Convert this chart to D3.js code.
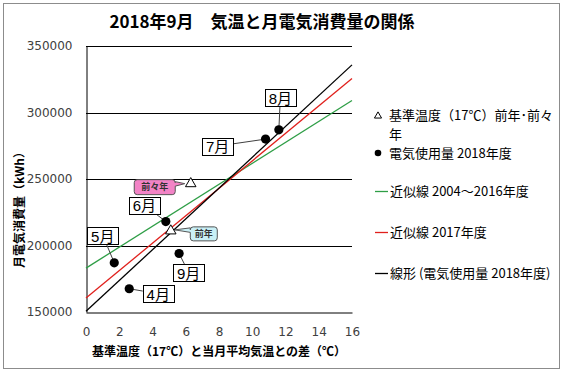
<!DOCTYPE html>
<html>
<head>
<meta charset="utf-8">
<script src="https://cdn.jsdelivr.net/npm/d3@7"></script>
<style>
body{margin:0;background:#fff;}
text{font-family:"Liberation Sans","Noto Sans CJK JP",sans-serif;}
.jp{font-family:"Noto Sans CJK JP",sans-serif;}
</style>
</head>
<body>
<div class="container"></div>
<script>
const WIDTH = 565;
const HEIGHT = 373;

// data
const months = ["4月", "5月", "6月", "7月", "8月", "9月"];
const tempDiff = [2.6, 1.7, 4.8, 10.8, 11.6, 5.6];
const usage = [167500, 187000, 218000, 280000, 287000, 194000];

const refNames = ["前年", "前々年"];
const refDiff = [5.1, 6.3];
const refUsage = [211000, 246500];

const trendNames = ["近似線 2004～2016年度", "近似線 2017年度", "線形 (電気使用量 2018年度)"];
const trendX = [0, 16];
const trendGreen = [183000, 309000];
const trendRed = [160500, 325500];
const trendBlack = [150500, 335800];

const xTicks = [0, 2, 4, 6, 8, 10, 12, 14, 16];
const yTicks = [150000, 200000, 250000, 300000, 350000];

// layout
const labelOffset = [[29, 5], [-11.5, -27.5], [-21.5, -16.5], [-48, 7], [1.5, -32], [9.5, 19]];
const trendColors = ["#2e9e46", "#e0201c", "#000"];

var translate = function(x, y){
  return "translate(" + x + "," + y + ")";
};

var svg = d3.select('.container').append('svg')
  .attr('width', WIDTH)
  .attr('height', HEIGHT);

svg.append('rect')
  .attr('x', 3.5).attr('y', 3.5)
  .attr('width', 556).attr('height', 365)
  .attr('fill', '#fff').attr('stroke', '#8c8c8c');

svg.append('text')
  .attr('class', 'jp')
  .attr('x', 262).attr('y', 22).attr('dy', '0.35em')
  .attr('text-anchor', 'middle')
  .style('font-size', '17px').style('font-weight', 'bold')
  .text('2018年9月　気温と月電気消費量の関係');

var xScale = d3.scaleLinear().domain([0, 16]).range([86, 352]);
var yScale = d3.scaleLinear().domain([150000, 350000]).range([312, 46]);

// grid
svg.append('g').selectAll('line')
  .data(yTicks.slice(1))
  .join('line')
  .attr('x1', xScale(0)).attr('x2', xScale(16))
  .attr('y1', d => Math.round(yScale(d)) + 0.5)
  .attr('y2', d => Math.round(yScale(d)) + 0.5)
  .attr('stroke', '#000').attr('stroke-width', 1);

var xAxis = d3.axisBottom(xScale).tickValues(xTicks).tickSize(0).tickPadding(15);
var yAxis = d3.axisLeft(yScale).tickValues(yTicks).tickSize(0).tickPadding(14)
  .tickFormat(d3.format('d'));

var gx = svg.append('g').attr('transform', translate(0, 312.5)).call(xAxis);
var gy = svg.append('g').attr('transform', translate(86.5, 0)).call(yAxis);
[gx, gy].forEach(function(g){
  g.select('.domain').attr('stroke', '#000').attr('stroke-width', 1);
  g.selectAll('text').attr('fill', '#404040').style('font-size', '12px')
    .style('font-family', '"DejaVu Sans","Noto Sans CJK JP",sans-serif');
});

svg.append('text')
  .attr('class', 'jp')
  .attr('transform', translate(20, 207) + ' rotate(-90)')
  .attr('text-anchor', 'middle').attr('dy', '0.35em')
  .style('font-size', '12px').style('font-weight', 'bold')
  .text('月電気消費量（kWh）');

svg.append('text')
  .attr('class', 'jp')
  .attr('x', 219).attr('y', 352).attr('dy', '0.35em')
  .attr('text-anchor', 'middle')
  .style('font-size', '12px').style('font-weight', 'bold')
  .text('基準温度（17℃）と当月平均気温との差（℃）');

// trend lines
var line = d3.line()
  .x(function(d, i){ return xScale(trendX[i]); })
  .y(function(d){ return yScale(d); });

svg.append('g').selectAll('path')
  .data([trendGreen, trendRed, trendBlack])
  .join('path')
  .attr('d', d => line(d))
  .attr('fill', 'none')
  .attr('stroke', (d, i) => trendColors[i])
  .attr('stroke-width', 1.3);

// leader lines and month boxes
var points = months.map(function(m, i){
  return {name: m, x: xScale(tempDiff[i]), y: yScale(usage[i]), off: labelOffset[i]};
});

var labels = svg.append('g');
points.forEach(function(p){
  var cx = p.x + p.off[0], cy = p.y + p.off[1];
  var w = 31, h = 17;
  // point on the box edge on the way to the dot
  var dx = p.x - cx, dy = p.y - cy;
  var t = Math.min(Math.abs((w / 2) / dx) || Infinity, Math.abs((h / 2) / dy) || Infinity);
  labels.append('line')
    .attr('x1', p.x).attr('y1', p.y)
    .attr('x2', cx + dx * t).attr('y2', cy + dy * t)
    .attr('stroke', '#404040').attr('stroke-width', 1);
  labels.append('rect')
    .attr('x', Math.round(cx - w / 2) + 0.5).attr('y', Math.round(cy - h / 2) + 0.5)
    .attr('width', w).attr('height', h)
    .attr('fill', '#fff').attr('stroke', '#000');
  labels.append('text')
    .attr('x', cx).attr('y', cy + 1).attr('dy', '0.35em')
    .attr('text-anchor', 'middle')
    .style('font-size', '15px')
    .text(p.name);
});

// dots
svg.append('g').selectAll('circle')
  .data(points)
  .join('circle')
  .attr('cx', d => d.x).attr('cy', d => d.y)
  .attr('r', 4.6).attr('fill', '#000');

// reference triangles with callouts
var refs = refNames.map(function(n, i){
  return {name: n, x: xScale(refDiff[i]), y: yScale(refUsage[i])};
});

var calloutPath = function(x0, y0, w, h, r, side, b1, b2, tx, ty){
  var x1 = x0 + w, y1 = y0 + h;
  var p = d3.path();
  p.moveTo(x0 + r, y0);
  p.lineTo(x1 - r, y0);
  p.arcTo(x1, y0, x1, y0 + r, r);
  if (side === 'right'){ p.lineTo(x1, b1); p.lineTo(tx, ty); p.lineTo(x1, b2); }
  p.lineTo(x1, y1 - r);
  p.arcTo(x1, y1, x1 - r, y1, r);
  p.lineTo(x0 + r, y1);
  p.arcTo(x0, y1, x0, y1 - r, r);
  if (side === 'left'){ p.lineTo(x0, b2); p.lineTo(tx, ty); p.lineTo(x0, b1); }
  p.lineTo(x0, y0 + r);
  p.arcTo(x0, y0, x0 + r, y0, r);
  p.closePath();
  return p.toString();
};

var callouts = svg.append('g');
// 前々年 (pink, tail on the right)
var pp = refs[1];
callouts.append('path')
  .attr('d', calloutPath(pp.x - 56.5, pp.y - 4, 41, 15, 3, 'right', pp.y - 2, pp.y + 2.5, pp.x - 6, pp.y))
  .attr('fill', '#f283c6').attr('stroke', '#555');
callouts.append('text')
  .attr('class', 'jp')
  .attr('x', pp.x - 36).attr('y', pp.y + 3.5).attr('dy', '0.35em')
  .attr('text-anchor', 'middle')
  .style('font-size', '9px').style('font-weight', 'bold').attr('fill', '#333')
  .text(pp.name);

// 前年 (cyan, tail on the left)
var pc = refs[0];
callouts.append('path')
  .attr('d', calloutPath(pc.x + 19.5, pc.y - 4, 27, 14, 3, 'left', pc.y - 3, pc.y + 1.5, pc.x + 4, pc.y - 1))
  .attr('fill', '#c9f0f6').attr('stroke', '#555');
callouts.append('text')
  .attr('class', 'jp')
  .attr('x', pc.x + 33).attr('y', pc.y + 3).attr('dy', '0.35em')
  .attr('text-anchor', 'middle')
  .style('font-size', '9px').style('font-weight', 'bold').attr('fill', '#333')
  .text(pc.name);

svg.append('g').selectAll('path')
  .data(refs)
  .join('path')
  .attr('transform', d => translate(d.x, d.y))
  .attr('d', d3.symbol(d3.symbolTriangle, 48))
  .attr('fill', '#fff').attr('stroke', '#000').attr('stroke-width', 1);

// legend
var legend = svg.append('g');
var legendText = function(x, y, s){
  return legend.append('text').attr('class', 'jp').attr('x', x).attr('y', y).attr('dy', '0.35em')
    .style('font-size', '13px').attr('fill', '#000').text(s);
};
legend.append('path')
  .attr('transform', translate(378, 116))
  .attr('d', d3.symbol(d3.symbolTriangle, 22))
  .attr('fill', '#fff').attr('stroke', '#000');
// wrapped label, two lines
legendText(389, 115, '基準温度（17℃）前年･前々');
legendText(389, 134.5, '年');
legend.append('circle').attr('cx', 378).attr('cy', 153).attr('r', 3.3).attr('fill', '#000');
legendText(389, 153, '電気使用量 2018年度');
var legendY = [191, 232, 273];
trendNames.forEach(function(n, i){
  legend.append('line')
    .attr('x1', 375).attr('x2', 388)
    .attr('y1', legendY[i] + 0.5).attr('y2', legendY[i] + 0.5)
    .attr('stroke', trendColors[i]).attr('stroke-width', 1.3);
  legendText(390, legendY[i], n);
});
</script>
</body>
</html>
